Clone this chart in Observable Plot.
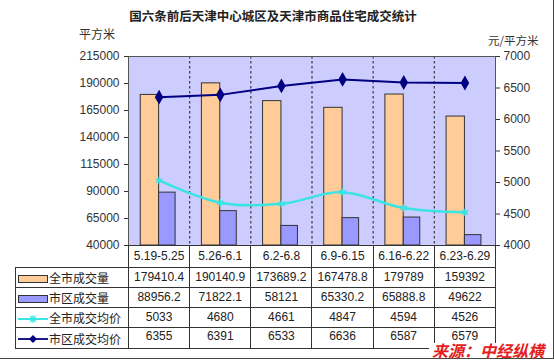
<!DOCTYPE html>
<html>
<head>
<meta charset="utf-8">
<script src="https://cdn.jsdelivr.net/npm/d3@7"></script>
<script src="https://cdn.jsdelivr.net/npm/@observablehq/plot@0.6"></script>
<style>
  html, body { margin: 0; padding: 0; background: #fff; }
  #wrap { position: relative; width: 554px; height: 362px; overflow: hidden; background: #fff;
          font-family: "Liberation Sans", Arial, "Noto Sans CJK SC", sans-serif; color: #333; }
  .abs { position: absolute; white-space: nowrap; }
  #title { left: 273px; top: 15px; transform: translate(-50%, -50%); font-size: 12.5px; font-weight: bold; color: #222;
           font-family: "Noto Sans CJK SC", sans-serif; }
  #unitL { left: 79px; top: 25px; font-size: 12px; font-family: "Noto Sans CJK SC", sans-serif; color: #333; }
  #unitR { left: 488px; top: 32px; font-size: 11.5px; font-family: "Noto Sans CJK SC", sans-serif; color: #333; }
  .layer { position: absolute; left: 0; top: 0; }
  table.data { position: absolute; left: 15px; top: 245px; border-collapse: collapse; table-layout: fixed;
               width: 481px; font-size: 12px; color: #222; }
  table.data td { border: 1px solid #333; text-align: center; padding: 0; height: 19px; line-height: 19px;
                  white-space: nowrap; overflow: hidden; }
  table.data tr.head td { height: 21px; line-height: 21px; }
  table.data td.blank { border: none; }
  table.data td.leg { text-align: left; font-family: "Noto Sans CJK SC", sans-serif; }
  table.data td.leg svg { vertical-align: middle; margin-left: 1px; margin-right: 0px; position: relative; top: -1px; }
  table.data tr.last td { line-height: 14px; vertical-align: top; padding-top: 1px; }
  table.data tr.last td.leg { line-height: 19px; vertical-align: middle; padding-top: 0; }
  #source { left: 429px; top: 343px; height: 15px; line-height: 15px; padding: 0 3px; background: #fff;
            font-size: 16px; font-weight: bold; font-style: italic; color: #e3201b;
            font-family: "Noto Sans CJK SC", sans-serif; }
  #borderR { position: absolute; left: 553px; top: 0; width: 1px; height: 359px; background: #444; }
  #borderB { position: absolute; left: 0; top: 358px; width: 554px; height: 1px; background: #444; }
</style>
</head>
<body>
<div id="wrap">
  <div id="title" class="abs"></div>
  <div id="unitL" class="abs"></div>
  <div id="unitR" class="abs"></div>
  <div id="bars" class="layer"></div>
  <div id="lines" class="layer"></div>
  <table class="data" id="table"></table>
  <div id="borderR"></div>
  <div id="borderB"></div>
  <div id="source" class="abs"></div>
</div>
<script>
// ---- data ----
const titleText = "国六条前后天津中心城区及天津市商品住宅成交统计";
const leftUnit = "平方米";
const rightUnit = "元/平方米";
const sourceText = "来源：中经纵横";
const categories = ["5.19-5.25", "5.26-6.1", "6.2-6.8", "6.9-6.15", "6.16-6.22", "6.23-6.29"];
const seriesNames = ["全市成交量", "市区成交量", "全市成交均价", "市区成交均价"];
const cityVolume = [179410.4, 190140.9, 173689.2, 167478.8, 179789, 159392];
const urbanVolume = [88956.2, 71822.1, 58121, 65330.2, 65888.8, 49622];
const cityPrice = [5033, 4680, 4661, 4847, 4594, 4526];
const urbanPrice = [6355, 6391, 6533, 6636, 6587, 6579];
const volumeTicks = [40000, 65000, 90000, 115000, 140000, 165000, 190000, 215000];
const priceTicks = [4000, 4500, 5000, 5500, 6000, 6500, 7000];

// ---- styles ----
const colors = { city: "#ffcc99", urban: "#9999ff", cityLine: "#38e4e4", urbanLine: "#000080", plotBg: "#ccccff" };
const W = 554, H = 362;
const M = { left: 128, right: W - 495, top: 56, bottom: H - 245 };
const fontFamily = '"Liberation Sans", Arial, sans-serif';

document.getElementById("title").textContent = titleText;
document.getElementById("unitL").textContent = leftUnit;
document.getElementById("unitR").textContent = rightUnit;
document.getElementById("source").textContent = sourceText;

const rows = categories.map((c, i) => ({
  i, c, pos: i + 0.5,
  cityVolume: cityVolume[i], urbanVolume: urbanVolume[i],
  cityPrice: cityPrice[i], urbanPrice: urbanPrice[i]
}));
const n = categories.length;
const base = volumeTicks[0];

const barsPlot = Plot.plot({
  width: W, height: H,
  marginLeft: M.left, marginRight: M.right, marginTop: M.top, marginBottom: M.bottom,
  style: { background: "transparent", color: "#333", fontFamily, fontSize: "12px", overflow: "visible" },
  x: { domain: [0, n], axis: null },
  y: { domain: [volumeTicks[0], volumeTicks[volumeTicks.length - 1]], axis: null },
  marks: [
    Plot.frame({ fill: colors.plotBg, stroke: null }),
    Plot.ruleX(d3.range(1, n), { stroke: "#3a3a3a", strokeWidth: 1.2, strokeDasharray: "2.5,2.5" }),
    Plot.rect(rows, { x1: d => d.pos - 0.3, x2: d => d.pos, y1: base, y2: "cityVolume",
                      fill: colors.city, stroke: "#333", strokeWidth: 1 }),
    Plot.rect(rows, { x1: d => d.pos, x2: d => d.pos + 0.27, y1: base, y2: "urbanVolume",
                      fill: colors.urban, stroke: "#333", strokeWidth: 1 }),
    Plot.axisY({ anchor: "left", ticks: volumeTicks, tickFormat: d => String(d), tickSize: 4, tickPadding: 5,
                 fontSize: 12, label: null }),
    Plot.frame({ stroke: "#555", strokeWidth: 1 })
  ]
});
document.getElementById("bars").appendChild(barsPlot);

const linesPlot = Plot.plot({
  width: W, height: H,
  marginLeft: M.left, marginRight: M.right, marginTop: M.top, marginBottom: M.bottom,
  style: { background: "transparent", color: "#333", fontFamily, fontSize: "12px", overflow: "visible" },
  x: { domain: [0, n], axis: null },
  y: { domain: [priceTicks[0], priceTicks[priceTicks.length - 1]], axis: null },
  marks: [
    Plot.line(rows, { x: "pos", y: "cityPrice", stroke: colors.cityLine, strokeWidth: 2.5, curve: "catmull-rom" }),
    Plot.dot(rows, { x: "pos", y: "cityPrice", symbol: "asterisk", stroke: colors.cityLine, strokeWidth: 1.5, r: 3.5 }),
    Plot.line(rows, { x: "pos", y: "urbanPrice", stroke: colors.urbanLine, strokeWidth: 2 }),
    Plot.dot(rows, { x: "pos", y: "urbanPrice", symbol: "diamond", fill: colors.urbanLine, stroke: "none", r: 4.5 }),
    Plot.axisY({ anchor: "right", ticks: priceTicks, tickFormat: d => String(d), tickSize: 4, tickPadding: 4,
                 fontSize: 12, label: null })
  ]
});
document.getElementById("lines").appendChild(linesPlot);

// ---- data table ----
const table = document.getElementById("table");
const colgroup = document.createElement("colgroup");
const c0 = document.createElement("col"); c0.style.width = "113px"; colgroup.appendChild(c0);
categories.forEach(() => { const c = document.createElement("col"); c.style.width = (367 / n) + "px"; colgroup.appendChild(c); });
table.appendChild(colgroup);

const head = document.createElement("tr"); head.className = "head";
const blank = document.createElement("td"); blank.className = "blank"; head.appendChild(blank);
categories.forEach(c => { const td = document.createElement("td"); td.textContent = c; head.appendChild(td); });
table.appendChild(head);

function swatch(kind) {
  const ns = "http://www.w3.org/2000/svg";
  const svg = document.createElementNS(ns, "svg");
  svg.setAttribute("width", 32); svg.setAttribute("height", 12);
  if (kind === 0 || kind === 1) {
    const r = document.createElementNS(ns, "rect");
    r.setAttribute("x", 1.5); r.setAttribute("y", 2.5); r.setAttribute("width", 29); r.setAttribute("height", 7);
    r.setAttribute("fill", kind === 0 ? colors.city : colors.urban); r.setAttribute("stroke", "#333");
    svg.appendChild(r);
  } else {
    const col = kind === 2 ? colors.cityLine : colors.urbanLine;
    const l = document.createElementNS(ns, "line");
    l.setAttribute("x1", 1); l.setAttribute("x2", 31); l.setAttribute("y1", 6); l.setAttribute("y2", 6);
    l.setAttribute("stroke", col); l.setAttribute("stroke-width", kind === 2 ? 2 : 1.8);
    svg.appendChild(l);
    if (kind === 2) {
      const p = document.createElementNS(ns, "path");
      p.setAttribute("d", "M13,3L19,9M19,3L13,9M16,2L16,10");
      p.setAttribute("stroke", col); p.setAttribute("stroke-width", 1.2); p.setAttribute("fill", "none");
      svg.appendChild(p);
    } else {
      const p = document.createElementNS(ns, "path");
      p.setAttribute("d", "M16,2L20,6L16,10L12,6Z");
      p.setAttribute("fill", col);
      svg.appendChild(p);
    }
  }
  return svg;
}

const seriesValues = [cityVolume, urbanVolume, cityPrice, urbanPrice];
seriesNames.forEach((name, k) => {
  const tr = document.createElement("tr");
  if (k === seriesNames.length - 1) tr.className = "last";
  const leg = document.createElement("td"); leg.className = "leg";
  leg.appendChild(swatch(k));
  leg.appendChild(document.createTextNode(name));
  tr.appendChild(leg);
  seriesValues[k].forEach(v => { const td = document.createElement("td"); td.textContent = String(v); tr.appendChild(td); });
  table.appendChild(tr);
});
</script>
</body>
</html>
